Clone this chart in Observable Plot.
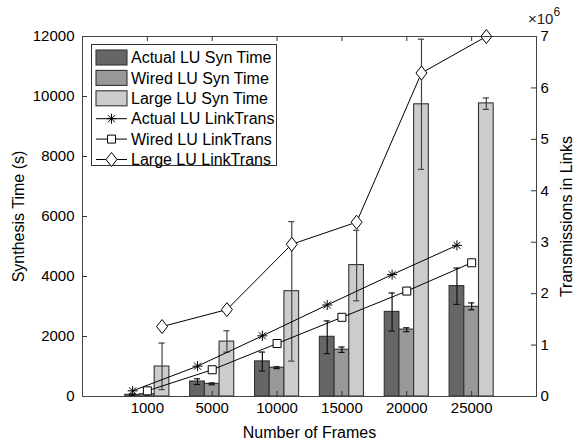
<!DOCTYPE html>
<html><head><meta charset="utf-8">
<script src="https://cdn.jsdelivr.net/npm/d3@7"></script>
<script src="https://cdn.jsdelivr.net/npm/@observablehq/plot@0.6"></script>
<style>body{margin:0;background:#fff}</style></head>
<body><div id="chart"></div>
<script>
const frames = ["1000", "5000", "10000", "15000", "20000", "25000"];
const actualTime = [57, 500, 1170, 1990, 2820, 3680];
const actualLo = [30, 400, 850, 1430, 2180, 3070];
const actualHi = [85, 590, 1480, 2520, 3450, 4280];
const wiredTime = [77, 420, 960, 1560, 2230, 2990];
const wiredLo = [60, 390, 930, 1470, 2160, 2890];
const wiredHi = [95, 450, 990, 1650, 2290, 3120];
const largeTime = [1000, 1830, 3510, 4380, 9740, 9770];
const largeLo = [230, 1480, 1180, 3190, 7570, 9570];
const largeHi = [1780, 2190, 5830, 5540, 11910, 9950];
// link transmissions, in units of 10^6
const actualTrans = [0.11, 0.59, 1.18, 1.78, 2.37, 2.94];
const wiredTrans = [0.11, 0.52, 1.03, 1.54, 2.05, 2.60];
const largeTrans = [1.36, 1.69, 2.96, 3.39, 6.29, 7.00];
const leftTicks = [0, 2000, 4000, 6000, 8000, 10000, 12000];
const rightTicks = [0, 1, 2, 3, 4, 5, 6, 7];
const Y_MAX = 12000, R_MAX = 7;

const star8 = {draw(ctx, size) {
  const r = Math.sqrt(size / Math.PI);
  for (let k = 0; k < 4; k++) {
    const a = k * Math.PI / 4, c = Math.cos(a) * r, s = Math.sin(a) * r;
    ctx.moveTo(c, s); ctx.lineTo(-c, -s);
  }
}};
const square = {draw(ctx, size) {
  const r = Math.sqrt(size / Math.PI) * 0.8;
  ctx.moveTo(-r, -r); ctx.lineTo(r, -r); ctx.lineTo(r, r); ctx.lineTo(-r, r); ctx.closePath();
}};
const diamond = {draw(ctx, size) {
  const r = Math.sqrt(size / Math.PI);
  ctx.moveTo(0, -r * 1.4); ctx.lineTo(r * 1.1, 0); ctx.lineTo(0, r * 1.4); ctx.lineTo(-r * 1.1, 0); ctx.closePath();
}};

const series = [
  {bar: "Actual LU Syn Time", line: "Actual LU LinkTrans", fill: "#666666", err: "#111", time: actualTime, lo: actualLo, hi: actualHi, trans: actualTrans, symbol: star8},
  {bar: "Wired LU Syn Time", line: "Wired LU LinkTrans", fill: "#999999", err: "#111", time: wiredTime, lo: wiredLo, hi: wiredHi, trans: wiredTrans, symbol: square},
  {bar: "Large LU Syn Time", line: "Large LU LinkTrans", fill: "#cccccc", err: "#444", time: largeTime, lo: largeLo, hi: largeHi, trans: largeTrans, symbol: diamond}
];

const bw = 0.2265, cap = 0.048;
const rows = [];
series.forEach((s, j) => {
  frames.forEach((f, i) => {
    const xc = i + 1 + (j - 1) * bw;
    rows.push({s: j, xc, x1: xc - bw / 2, x2: xc + bw / 2, v: s.time[i], lo: s.lo[i], hi: s.hi[i], t: s.trans[i] * Y_MAX / R_MAX, fill: s.fill, err: s.err});
  });
});

const font = "'Liberation Sans', Arial, sans-serif";
const tk = 0.078, tky = 5 * Y_MAX / 360;

const marks = [
  Plot.rectY(rows, {x1: "x1", x2: "x2", y1: 0, y2: "v", fill: "fill", stroke: "#333", strokeWidth: 1.1}),
  Plot.ruleX(rows, {x: "xc", y1: "lo", y2: "hi", stroke: "err", strokeWidth: 1.2}),
  Plot.ruleY(rows, {y: "lo", x1: d => d.xc - cap, x2: d => d.xc + cap, stroke: "err", strokeWidth: 1.2}),
  Plot.ruleY(rows, {y: "hi", x1: d => d.xc - cap, x2: d => d.xc + cap, stroke: "err", strokeWidth: 1.2}),
  // inward ticks
  Plot.ruleY(leftTicks, {y: d => d, x1: 0, x2: tk, stroke: "#333"}),
  Plot.ruleY(rightTicks, {y: d => d * Y_MAX / R_MAX, x1: R_MAX - tk, x2: R_MAX, stroke: "#333"}),
  Plot.ruleX(frames, {x: (d, i) => i + 1, y1: Y_MAX - tky, y2: Y_MAX, stroke: "#333"}),
  Plot.ruleX(frames, {x: (d, i) => i + 1, y1: 0, y2: tky, stroke: "#333"}),
  ...series.map((s, j) => Plot.line(rows.filter(r => r.s === j), {x: "xc", y: "t", stroke: "black", strokeWidth: 1})),
  ...series.map((s, j) => Plot.dot(rows.filter(r => r.s === j), {x: "xc", y: "t", symbol: s.symbol, r: 5, stroke: "black", strokeWidth: 1, fill: j === 0 ? "none" : "white"})),
  Plot.frame({stroke: "#444"}),
  Plot.axisY(leftTicks, {anchor: "left", tickSize: 0, tickPadding: 8, label: null, fontSize: 15, tickFormat: d => String(d)}),
  Plot.axisY(rightTicks.map(d => d * Y_MAX / R_MAX), {anchor: "right", tickSize: 0, tickPadding: 4, label: null, fontSize: 15, tickFormat: d => String(Math.round(d * R_MAX / Y_MAX))}),
  Plot.axisX([1, 2, 3, 4, 5, 6], {anchor: "bottom", tickSize: 0, tickPadding: 6, label: null, fontSize: 15, tickFormat: d => frames[d - 1]}),
  Plot.text(["Synthesis Time (s)"], {frameAnchor: "left", textAnchor: "middle", dx: -64, rotate: -90, fontSize: 16}),
  Plot.text(["Transmissions in Links"], {frameAnchor: "right", textAnchor: "middle", dx: 30, rotate: -90, fontSize: 16}),
  Plot.text(["Number of Frames"], {frameAnchor: "bottom", dy: 41, fontSize: 16})
];

const plot = Plot.plot({
  width: 575, height: 444,
  marginLeft: 82, marginRight: 39, marginTop: 36, marginBottom: 48,
  x: {type: "linear", domain: [0, 7], axis: null},
  y: {type: "linear", domain: [0, Y_MAX], axis: null},
  color: {type: "identity"},
  style: {fontFamily: font, fontSize: "15px", color: "#000", background: "#fff"},
  marks
});

const svg = d3.select(plot);
// exponent label
const ex = svg.append("text").attr("x", 528).attr("y", 24).attr("text-anchor", "start").attr("font-family", font).attr("font-size", 15).attr("fill", "#222");
ex.append("tspan").text("×10");
ex.append("tspan").attr("dy", -8).attr("font-size", 12).text("6");

// legend
const lg = svg.append("g").attr("font-family", font).attr("font-size", 16).attr("text-anchor", "start");
lg.append("rect").attr("x", 91.5).attr("y", 44.5).attr("width", 185).attr("height", 121).attr("fill", "white").attr("stroke", "#333");
const y0 = 57.5, dyL = 20.4;
series.forEach((s, j) => {
  const y = y0 + j * dyL;
  lg.append("rect").attr("x", 96).attr("y", y - 7.5).attr("width", 31).attr("height", 15).attr("fill", s.fill).attr("stroke", "#333").attr("stroke-width", 1.1);
  lg.append("text").attr("x", 131).attr("y", y).attr("dy", "0.36em").text(s.bar);
});
const symPaths = [star8, square, diamond];
series.forEach((s, j) => {
  const y = y0 + (j + 3) * dyL;
  lg.append("line").attr("x1", 96).attr("x2", 127).attr("y1", y).attr("y2", y).attr("stroke", "black");
  lg.append("path").attr("transform", `translate(111.5,${y})`).attr("d", d3.symbol(symPaths[j], Math.PI * 25)()).attr("stroke", "black").attr("fill", j === 0 ? "none" : "white");
  lg.append("text").attr("x", 131).attr("y", y).attr("dy", "0.36em").text(s.line);
});

document.getElementById("chart").appendChild(plot);
</script></body></html>
